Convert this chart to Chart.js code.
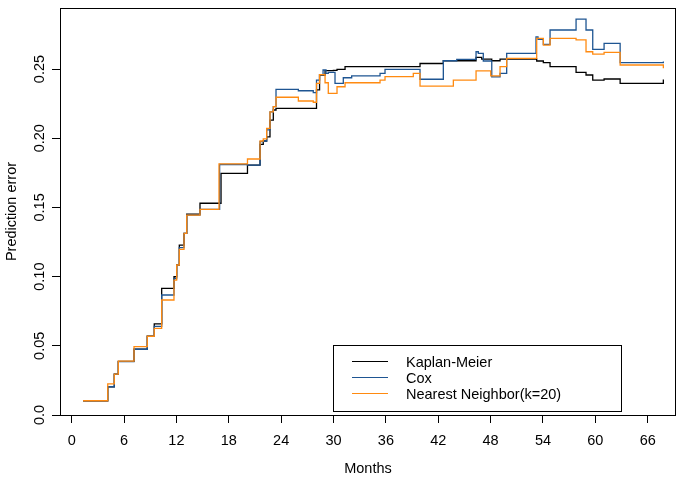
<!DOCTYPE html>
<html>
<head>
<meta charset="utf-8">
<script src="https://cdn.jsdelivr.net/npm/chart.js@4/dist/chart.umd.min.js"></script>
<style>
  html, body { margin: 0; padding: 0; background: #fff; }
  #wrap { width: 679px; height: 482px; }
</style>
</head>
<body>
<div id="wrap"><canvas id="c" width="679" height="482"></canvas></div>
<script>
// ---- data ----
const xTicks = [0, 6, 12, 18, 24, 30, 36, 42, 48, 54, 60, 66];
const yTicks = [0, 0.05, 0.10, 0.15, 0.20, 0.25];
const yTickLabels = ["0.0", "0.05", "0.10", "0.15", "0.20", "0.25"];
const seriesNames = ["Kaplan-Meier", "Cox", "Nearest Neighbor(k=20)"];

const kmMonths = [1.30, 4.13, 4.88, 5.34, 7.14, 8.66, 9.46, 10.31, 11.72, 12.03, 12.33, 12.87, 13.18, 14.70, 17.11, 20.14, 21.58, 21.95, 22.34, 22.72, 23.10, 23.41, 28.05, 28.40, 29.03, 29.98, 30.40, 31.32, 39.91, 42.58, 46.33, 46.98, 48.13, 49.08, 53.28, 54.04, 54.81, 57.79, 58.93, 59.70, 61.00, 62.84, 67.79];
const kmError = [0.0103, 0.0204, 0.0296, 0.0388, 0.0475, 0.0569, 0.0658, 0.0915, 0.0999, 0.1084, 0.1228, 0.1313, 0.1452, 0.1530, 0.1746, 0.1806, 0.1956, 0.1980, 0.2010, 0.2131, 0.2204, 0.2216, 0.2350, 0.2457, 0.2488, 0.2490, 0.2498, 0.2517, 0.2540, 0.2560, 0.2584, 0.2572, 0.2560, 0.2572, 0.2558, 0.2546, 0.2517, 0.2476, 0.2457, 0.2420, 0.2428, 0.2397, 0.2425];

const coxMonths = [1.30, 4.13, 4.88, 5.34, 7.14, 8.66, 9.46, 10.31, 11.72, 12.03, 12.33, 12.87, 13.18, 14.70, 16.95, 20.14, 21.58, 21.95, 22.34, 22.72, 23.10, 23.41, 25.97, 27.68, 28.05, 28.40, 28.80, 29.14, 29.40, 30.17, 31.12, 32.08, 35.33, 35.90, 39.91, 42.58, 44.12, 46.33, 46.59, 47.16, 48.13, 49.08, 49.84, 53.20, 53.43, 54.04, 54.81, 57.79, 58.93, 59.70, 61.00, 62.84, 67.79];
const coxError = [0.0103, 0.0204, 0.0296, 0.0385, 0.0475, 0.0569, 0.0640, 0.0867, 0.0985, 0.1084, 0.1210, 0.1313, 0.1445, 0.1486, 0.1810, 0.1806, 0.1975, 0.1980, 0.2060, 0.2190, 0.2228, 0.2353, 0.2343, 0.2330, 0.2420, 0.2460, 0.2493, 0.2469, 0.2476, 0.2397, 0.2437, 0.2450, 0.2469, 0.2498, 0.2426, 0.2560, 0.2570, 0.2625, 0.2613, 0.2558, 0.2444, 0.2469, 0.2613, 0.2733, 0.2714, 0.2678, 0.2782, 0.2861, 0.2782, 0.2642, 0.2686, 0.2546, 0.2555];

const nnMonths = [1.30, 4.13, 4.88, 5.34, 7.14, 8.66, 9.46, 10.31, 11.72, 12.03, 12.33, 12.87, 13.18, 14.70, 16.88, 20.14, 21.58, 21.95, 22.34, 22.72, 23.10, 23.41, 25.97, 27.68, 28.05, 28.40, 29.03, 29.40, 30.40, 31.32, 35.33, 35.90, 39.14, 39.91, 43.73, 46.33, 48.01, 49.08, 49.84, 53.28, 54.04, 54.81, 57.79, 58.93, 59.70, 61.00, 62.84, 67.79];
const nnError = [0.0103, 0.0225, 0.0296, 0.0390, 0.0494, 0.0569, 0.0626, 0.0831, 0.0975, 0.1084, 0.1197, 0.1313, 0.1445, 0.1486, 0.1814, 0.1850, 0.1980, 0.1995, 0.2071, 0.2190, 0.2228, 0.2296, 0.2269, 0.2260, 0.2397, 0.2460, 0.2401, 0.2324, 0.2372, 0.2401, 0.2420, 0.2445, 0.2469, 0.2377, 0.2420, 0.2486, 0.2450, 0.2517, 0.2577, 0.2722, 0.2673, 0.2722, 0.2710, 0.2625, 0.2608, 0.2620, 0.2529, 0.2505];

// ---- styling ----
const FONT = "'Liberation Sans', Arial, Helvetica, sans-serif";
const colors = ["#000000", "#1E5592", "#FF8A10"];

function pts(xs, ys) { return xs.map((x, i) => ({ x: x, y: ys[i] })); }

const framePlugin = {
  id: 'frame',
  afterDatasetsDraw(chart) {
    const { ctx, chartArea: a } = chart;
    ctx.save();
    ctx.strokeStyle = '#000';
    ctx.lineWidth = 1;
    ctx.strokeRect(Math.round(a.left) + 0.5, Math.round(a.top) + 0.5,
                   Math.round(a.right - a.left) - 1, Math.round(a.bottom - a.top));
    ctx.restore();
  }
};

const legendBoxPlugin = {
  id: 'rlegend',
  afterDraw(chart) {
    const ctx = chart.ctx;
    const bx = 333.5, by = 345.5, bw = 288, bh = 66;
    ctx.save();
    ctx.fillStyle = '#fff';
    ctx.fillRect(bx, by, bw, bh);
    ctx.strokeStyle = '#000';
    ctx.lineWidth = 1;
    ctx.strokeRect(bx, by, bw, bh);
    chart.data.datasets.forEach((ds, i) => {
      const y = 361.5 + 16 * i;
      ctx.strokeStyle = ds.borderColor;
      ctx.lineWidth = 1;
      ctx.beginPath();
      ctx.moveTo(352, y);
      ctx.lineTo(388, y);
      ctx.stroke();
      ctx.fillStyle = '#000';
      ctx.font = "14.5px " + FONT;
      ctx.textBaseline = 'middle';
      ctx.textAlign = 'left';
      ctx.fillText(ds.label, 406, y + 1);
    });
    ctx.restore();
  }
};

const chart = new Chart(document.getElementById('c'), {
  type: 'line',
  data: {
    datasets: [
      { label: seriesNames[0], data: pts(kmMonths, kmError), borderColor: colors[0], order: 3 },
      { label: seriesNames[1], data: pts(coxMonths, coxError), borderColor: colors[1], order: 2 },
      { label: seriesNames[2], data: pts(nnMonths, nnError), borderColor: colors[2], order: 1 }
    ].map(d => Object.assign(d, { stepped: 'before', borderWidth: 1.3, pointRadius: 0, fill: false, tension: 0 }))
  },
  options: {
    responsive: false,
    animation: false,
    devicePixelRatio: 1,
    layout: { padding: { left: 0, right: 3, top: 8, bottom: 0 } },
    plugins: { legend: { display: false }, tooltip: { enabled: false } },
    scales: {
      x: {
        type: 'linear',
        min: -1.34,
        max: 69.24,
        afterBuildTicks: s => { s.ticks = xTicks.map(v => ({ value: v })); },
        afterFit: s => { s.height = 67; s.paddingLeft = 0; s.paddingRight = 0; },
        grid: { drawOnChartArea: false, drawTicks: true, tickLength: 8, color: '#000', lineWidth: 1 },
        border: { display: false },
        ticks: { color: '#000', font: { family: FONT, size: 14.5 }, padding: 9, maxRotation: 0, minRotation: 0, autoSkip: false,
                 callback: v => String(v) },
        title: { display: true, text: 'Months', color: '#000', font: { family: FONT, size: 14.5 }, padding: { top: 0, bottom: 4 } }
      },
      y: {
        type: 'linear',
        min: 0,
        max: 0.2941,
        afterBuildTicks: s => { s.ticks = yTicks.map(v => ({ value: v })); },
        afterFit: s => { s.width = 60; s.paddingTop = 0; s.paddingBottom = 0; },
        grid: { drawOnChartArea: false, drawTicks: true, tickLength: 8, color: '#000', lineWidth: 1 },
        border: { display: false },
        ticks: { color: '#000', font: { family: FONT, size: 14.5 }, padding: -2, minRotation: 90, maxRotation: 90,
                 crossAlign: 'center', autoSkip: false,
                 callback: (v, i) => yTickLabels[i] },
        title: { display: true, text: 'Prediction error', color: '#000', font: { family: FONT, size: 14.5 }, padding: { top: 3, bottom: 3 } }
      }
    }
  },
  plugins: [framePlugin, legendBoxPlugin]
});
</script>
</body>
</html>
